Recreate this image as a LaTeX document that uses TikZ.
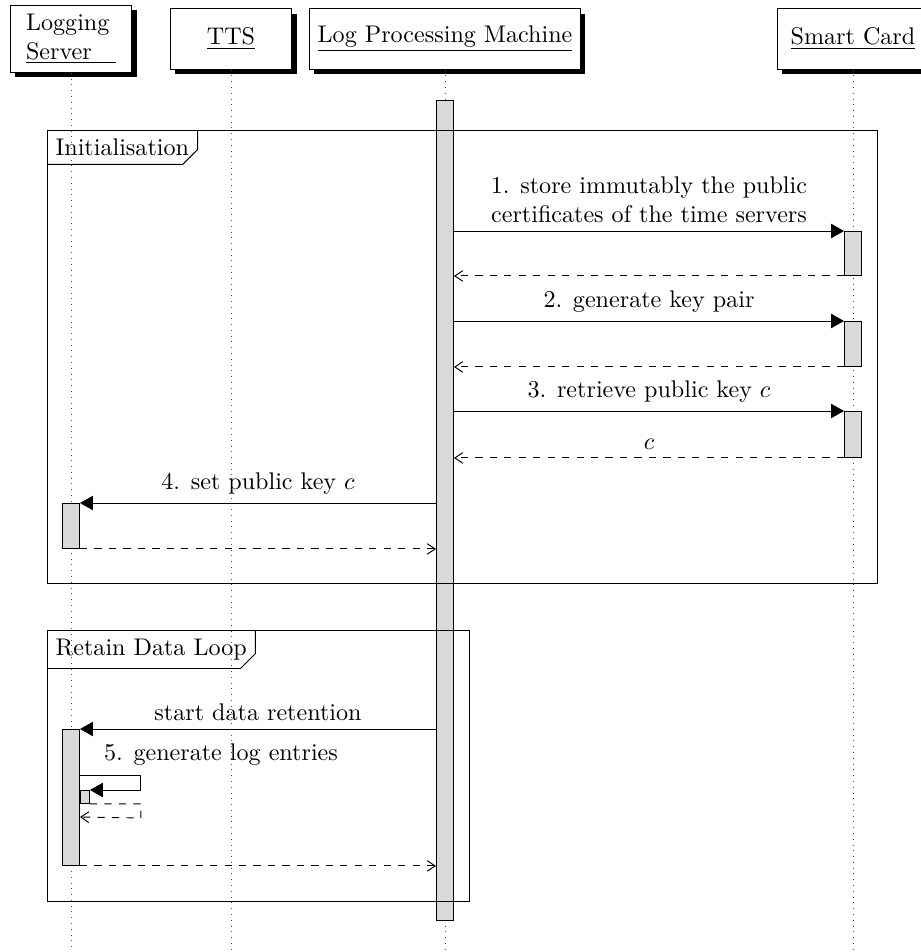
\documentclass[tikz,border=0pt]{standalone}
\usepackage{tikz}
\usetikzlibrary{shapes, calc, shadows, arrows.meta, positioning}
\newlength\pxu
\setlength\pxu{0.415pt}
\tikzstyle{inst}=[draw, fill=white, minimum width=50.6pt, minimum height=25pt, drop shadow={shadow xshift=2pt, shadow yshift=-2pt, fill=black, opacity=1}]
\tikzstyle{life}=[dotted, black!70]
\tikzstyle{act}=[draw, fill=black!15, minimum width=17\pxu, inner sep=0pt]
\tikzstyle{call}=[-{Triangle[length=5.4pt,width=6pt]}]
\tikzstyle{ret}=[dashed, -{Straight Barb[length=3.3pt,width=4.4pt]}]
\tikzstyle{frmlabel}=[inner sep=3.4pt]

\begin{document}
\begin{tikzpicture}[x=0.415pt, y=-0.415pt]
	\useasboundingbox (0,0) rectangle (920,952);
	\coordinate (bottom) at (0,950);
	\node[inst, align=left] (ls) at (71,39) {Logging\\\underline{Server\hspace{10pt}}};
	\node[inst] (tts) at (231,39) {\underline{TTS}};
	\node[inst] (lpm) at (445,39) {\underline{Log Processing Machine}};
	\node[inst, inner xsep=5.6pt] (sc) at (853,39) {\underline{Smart Card}};
	\foreach \i in {ls, tts, lpm, sc}
		\draw[life] (\i.south) -- (\i |- bottom);

	\node[act, anchor=north, minimum height=820\pxu] (lpmbar) at (lpm |- 0,100) {};
	\node[act, anchor=north, minimum height=44\pxu] (sc1) at (sc |- 0,231) {};
	\node[act, anchor=north, minimum height=45\pxu] (sc2) at (sc |- 0,321) {};
	\node[act, anchor=north, minimum height=46\pxu] (sc3) at (sc |- 0,411) {};
	\node[act, anchor=north, minimum height=45\pxu] (ls1) at (ls |- 0,503) {};
	\node[act, anchor=north, minimum height=136\pxu] (ls2) at (ls |- 0,729) {};
	\node[act, anchor=north west, minimum width=9\pxu, minimum height=13\pxu] (ls3) at (ls2.east |- 0,790) {};

	\node[frmlabel, anchor=north west] (init) at (47,130) {Initialisation};
	\draw (init.north west) rectangle (877,583);
	\draw (init.north east) -- ($(init.south east)+(0,-15)$) -- ($(init.south east)+(-15,0)$) -- (init.south west);
	\node[frmlabel, anchor=north west] (loop) at (47,630) {Retain Data Loop};
	\draw (loop.north west) rectangle (469,901);
	\draw (loop.north east) -- ($(loop.south east)+(0,-15)$) -- ($(loop.south east)+(-15,0)$) -- (loop.south west);

	\draw[call] (lpmbar.east |- sc1.north) -- node[above, align=center] {1. store immutably the public\\certificates of the time servers} (sc1.north west);
	\draw[ret] (sc1.south west) -- (lpmbar.east |- sc1.south);
	\draw[call] (lpmbar.east |- sc2.north) -- node[above] {2. generate key pair} (sc2.north west);
	\draw[ret] (sc2.south west) -- (lpmbar.east |- sc2.south);
	\draw[call] (lpmbar.east |- sc3.north) -- node[above] {3. retrieve public key $c$} (sc3.north west);
	\draw[ret] (sc3.south west) -- node[above] {$c$} (lpmbar.east |- sc3.south);
	\draw[call] (lpmbar.west |- ls1.north) -- node[above] {4. set public key $c$} (ls1.north east);
	\draw[ret] (ls1.south east) -- (lpmbar.west |- ls1.south);

	\draw[call] (lpmbar.west |- ls2.north) -- node[above] {start data retention} (ls2.north east);
	\node (gen) at (221,755) {5. generate log entries};
	\draw[call] (ls2.east |- 0,775) -- ++(60,0) |- (ls3.north east);
	\draw[ret] (ls3.south east) -- ++(51,0) -- ++(0,14) -- (ls2.east |- 0,817);
	\draw[ret] (ls2.south east) -- (lpmbar.west |- ls2.south);
\end{tikzpicture}
\end{document}
